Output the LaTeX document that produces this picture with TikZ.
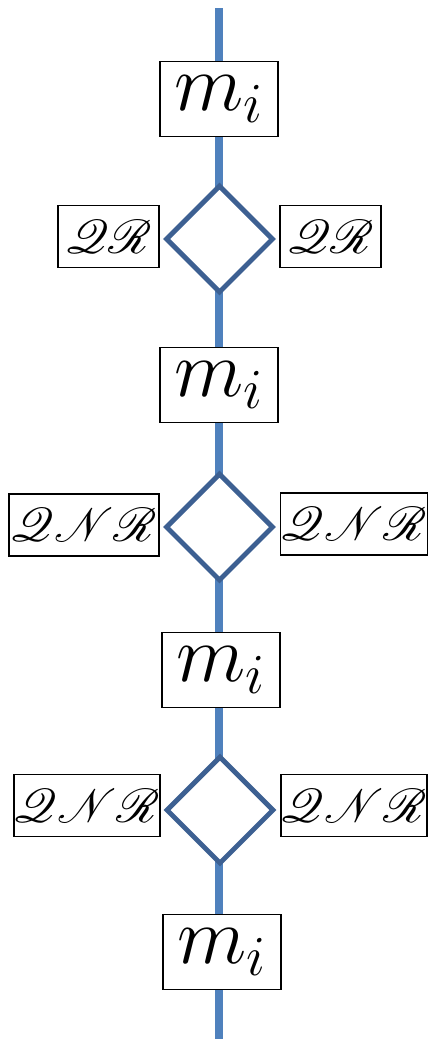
\RequirePackage{fix-cm}
\documentclass[tikz,border=0pt]{standalone}
\usepackage{amsmath,amssymb}
\usepackage{mathrsfs}
\usepackage{tikz}
\usetikzlibrary{shapes.geometric}
\DeclareFontFamily{U}{rsfs}{\skewchar\font127 }
\DeclareFontShape{U}{rsfs}{m}{n}{<-6> rsfs5 <6-8> rsfs7 <8-> rsfs10}{}
\definecolor{spine}{RGB}{79,129,189}
\definecolor{rim}{RGB}{61,96,146}

\begin{document}
\begin{tikzpicture}[x=0.02cm,y=-0.02cm,line cap=butt,
  mbox/.style={draw,line width=1.1pt,fill=white,minimum width=2.36cm,minimum height=1.5cm,inner sep=0pt,font=\fontsize{46}{50}\selectfont},
  sbox/.style={draw,line width=1.1pt,fill=white,minimum height=1.24cm,inner sep=0pt,font=\fontsize{27}{31}\selectfont},
  gate/.style={diamond,draw=rim,line width=2.8pt,fill=white,minimum width=2.16cm,minimum height=2.16cm,inner sep=0pt}]
\useasboundingbox (0,0) rectangle (430,1039);
\coordinate (top) at (219,8);
\coordinate (bot) at (219,1039);
\draw[spine,line width=4.5pt] (top) -- (bot);
% message boxes along the spine
\node[mbox] (m1) at (219,99) {$m_i$};
\node[mbox] (m2) at (219,385) {$m_i$};
\node[mbox] (m3) at (221,670) {$m_i$};
\node[mbox] (m4) at (222,952) {$m_i$};
% gates
\node[gate] (g1) at (219.5,239) {};
\node[gate] (g2) at (219.5,527) {};
\node[gate] (g3) at (220,810) {};
\node[sbox,minimum width=2.02cm] (l1) at (108.5,236.5) {$\mathscr{QR}$};
\node[sbox,minimum width=2.02cm] (r1) at (330.5,236.5) {$\mathscr{QR}$};
\node[sbox,minimum width=3cm] (l2) at (84,525) {$\mathscr{QNR}$};
\node[sbox,minimum width=2.94cm] (r2) at (354,524) {$\mathscr{QNR}$};
\node[sbox,minimum width=2.92cm] (l3) at (87,805.5) {$\mathscr{QNR}$};
\node[sbox,minimum width=2.92cm] (r3) at (354,805.5) {$\mathscr{QNR}$};
\end{tikzpicture}
\end{document}
